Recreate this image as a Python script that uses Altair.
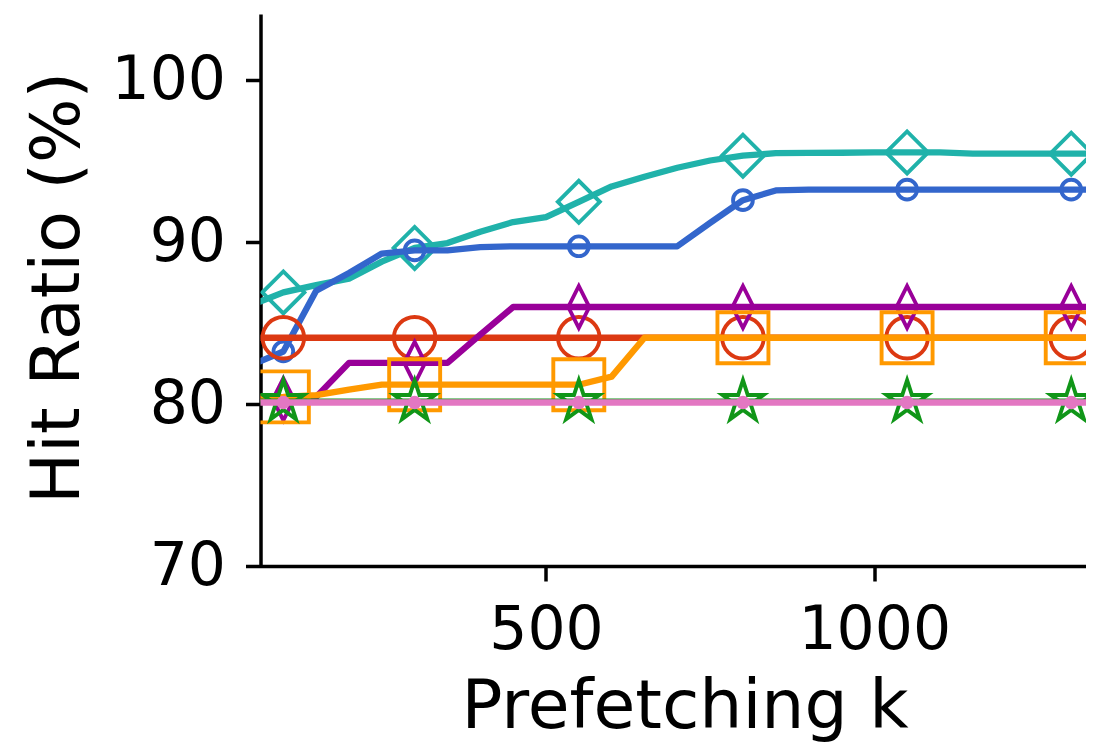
import altair as alt
import pandas as pd

# Prefetching k values at which each curve is sampled
K = [50, 100, 150, 200, 250, 300, 350, 400, 450, 500, 550, 600, 650, 700,
     750, 800, 850, 900, 950, 1000, 1050, 1100, 1150, 1200, 1250, 1300, 1350]
# k values that carry a marker
MARK_K = [100, 300, 550, 800, 1050, 1300]

TEAL = [86.1, 86.9, 87.35, 87.75, 88.8, 89.65, 89.95, 90.65, 91.25, 91.55, 92.5, 93.45, 94.05, 94.6,
        95.05, 95.35, 95.5, 95.52, 95.53, 95.55, 95.55, 95.55, 95.48, 95.47, 95.47, 95.47, 95.47]
BLUE = [82.4, 83.25, 87.0, 88.1, 89.3, 89.5, 89.5, 89.7, 89.75, 89.75, 89.75, 89.75, 89.75, 89.75,
        91.2, 92.6, 93.2, 93.25, 93.25, 93.25, 93.25, 93.25, 93.25, 93.25, 93.25, 93.25, 93.25]
RED = [84.1, 84.1, 84.1, 84.1, 84.1, 84.1, 84.1, 84.1, 84.1, 84.1, 84.1, 84.1, 84.1, 84.1,
       84.1, 84.1, 84.1, 84.1, 84.1, 84.1, 84.1, 84.1, 84.1, 84.1, 84.1, 84.1, 84.1]
PURPLE = [80.3, 80.3, 80.45, 82.55, 82.55, 82.55, 82.55, 84.3, 86.0, 86.0, 86.0, 86.0, 86.0, 86.0,
          86.0, 86.0, 86.0, 86.0, 86.0, 86.0, 86.0, 86.0, 86.0, 86.0, 86.0, 86.0, 86.0]
ORANGE = [80.4, 80.45, 80.55, 80.9, 81.2, 81.2, 81.2, 81.2, 81.2, 81.2, 81.2, 81.7, 84.1, 84.1,
          84.1, 84.1, 84.1, 84.1, 84.1, 84.1, 84.1, 84.1, 84.1, 84.1, 84.1, 84.1, 84.1]
GREEN = [80.15, 80.15, 80.15, 80.15, 80.15, 80.15, 80.15, 80.15, 80.15, 80.15, 80.15, 80.15, 80.15, 80.15,
         80.15, 80.15, 80.15, 80.15, 80.15, 80.15, 80.15, 80.15, 80.15, 80.15, 80.15, 80.15, 80.15]
PINK = [80.1, 80.1, 80.1, 80.1, 80.1, 80.1, 80.1, 80.1, 80.1, 80.1, 80.1, 80.1, 80.1, 80.1,
        80.1, 80.1, 80.1, 80.1, 80.1, 80.1, 80.1, 80.1, 80.1, 80.1, 80.1, 80.1, 80.1]

SERIES = [
    ("teal", TEAL),
    ("blue", BLUE),
    ("red", RED),
    ("purple", PURPLE),
    ("orange", ORANGE),
    ("green", GREEN),
    ("pink", PINK),
]

STAR = ("M0,-1L0.2245,-0.309L0.951,-0.309L0.363,0.118L0.588,0.809L0,0.382"
        "L-0.588,0.809L-0.363,0.118L-0.951,-0.309L-0.2245,-0.309Z")
THIN_DIAMOND = "M0,-1L0.5,0L0,1L-0.5,0Z"

STYLE = {
    "teal":   dict(color="#20b2aa", shape="diamond", size=1764, filled=False),
    "blue":   dict(color="#3366cc", shape="circle", size=390, filled=False),
    "red":    dict(color="#dc3912", shape="circle", size=1722, filled=False),
    "purple": dict(color="#990099", shape=THIN_DIAMOND, size=1764, filled=False),
    "orange": dict(color="#ff9900", shape="square", size=2600, filled=False),
    "green":  dict(color="#109618", shape=STAR, size=1849, filled=False),
    "pink":   dict(color="#e377c2", shape="circle", size=180, filled=True),
}

rows = []
for name, vals in SERIES:
    for k, v in zip(K, vals):
        rows.append({"series": name, "k": k, "ratio": v})
df = pd.DataFrame(rows)

FONT = "DejaVu Sans"

x_enc = alt.X(
    "k:Q",
    scale=alt.Scale(domain=[65.2, 1322.5], nice=False, zero=False),
    axis=alt.Axis(
        values=[500, 1000], format="d", title="Prefetching k", grid=False,
        tickSize=15, labelPadding=67, labelBaseline="alphabetic",
        titleBaseline="alphabetic", titleX=424, titleY=161, titleAlign="center",
    ),
)
y_enc = alt.Y(
    "ratio:Q",
    scale=alt.Scale(domain=[70, 104.1], nice=False, zero=False),
    axis=alt.Axis(
        values=[70, 80, 90, 100], format="d", title="Hit Ratio (%)", grid=False,
        tickSize=15, labelPadding=20,
        titleAngle=270, titleBaseline="alphabetic", titleAlign="center",
        titleX=-182.5, titleY=273.5,
    ),
)

layers = []
for name, _ in SERIES:
    st = STYLE[name]
    base = alt.Chart(df).transform_filter(alt.datum.series == name)
    line = base.mark_line(
        color=st["color"], strokeWidth=6.3, strokeJoin="round", clip=True
    ).encode(x=x_enc, y=y_enc)
    pts = base.transform_filter(
        alt.FieldOneOfPredicate(field="k", oneOf=MARK_K)
    ).mark_point(
        shape=st["shape"], size=st["size"], filled=st["filled"],
        color=st["color"], strokeWidth=3.9, opacity=1, clip=True,
    ).encode(x=x_enc, y=y_enc)
    layers.extend([line, pts])

chart = alt.layer(*layers).properties(
    width=825.5,
    height=552,
    autosize=alt.AutoSizeParams(type="none"),
    padding={"left": 252.5, "top": 6, "right": 0, "bottom": 178},
).configure_view(
    stroke=None
).configure_axis(
    domainColor="black", tickColor="black", domainWidth=3.5, tickWidth=3.5,
    labelFont=FONT, titleFont=FONT, labelFontSize=60, titleFontSize=68,
    titleFontWeight="normal", labelColor="black", titleColor="black",
    labelOverlap=False,
)

chart.save("out.html", embed_options={"renderer": "svg", "actions": False})
